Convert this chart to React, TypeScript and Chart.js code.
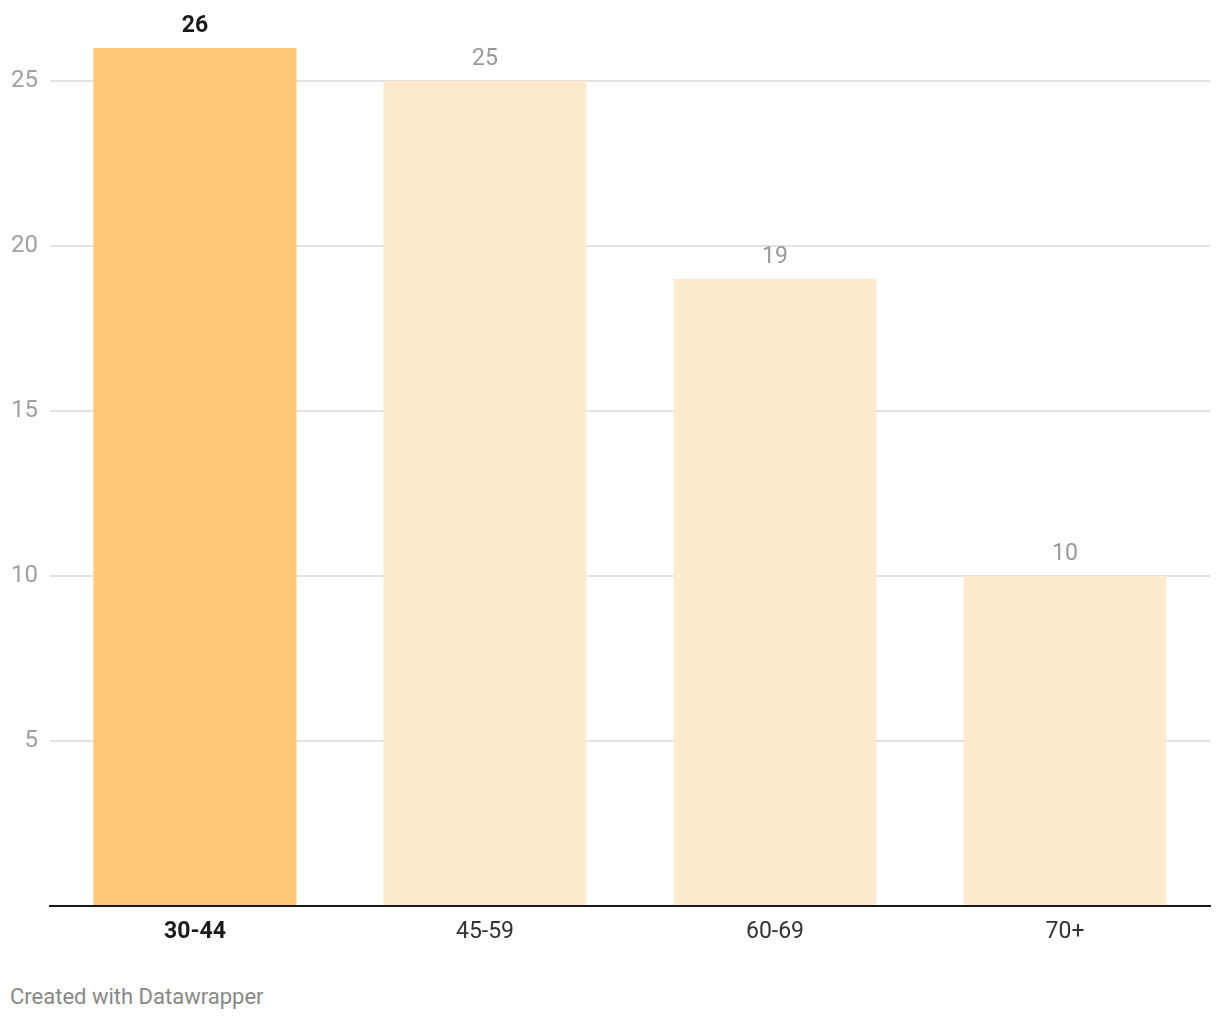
import React, { useEffect, useRef } from "react";
import { Chart, registerables } from "chart.js";

Chart.register(...registerables);

const categories = ["30-44", "45-59", "60-69", "70+"];
const values = [26, 25, 19, 10];
const highlight = [true, false, false, false];
const yTicks = [5, 10, 15, 20, 25];

const FONT = "Roboto, 'Noto Sans', sans-serif";

const valueLabels = {
  id: "valueLabels",
  afterDatasetsDraw(chart: any) {
    const ctx = chart.ctx;
    const meta = chart.getDatasetMeta(0);
    ctx.save();
    ctx.textAlign = "center";
    ctx.textBaseline = "alphabetic";
    meta.data.forEach((bar: any, i: number) => {
      ctx.font = `${highlight[i] ? "bold " : ""}23px ${FONT}`;
      ctx.fillStyle = highlight[i] ? "#1a1a1a" : "#999999";
      ctx.fillText(String(values[i]), bar.x, bar.y - 16);
    });
    ctx.restore();
  },
};

export default function App() {
  const ref = useRef<HTMLCanvasElement>(null);
  useEffect(() => {
    document.body.style.margin = "0";
    const chart = new Chart(ref.current!, {
      type: "bar",
      data: {
        labels: categories,
        datasets: [
          {
            data: values,
            backgroundColor: highlight.map((h) => (h ? "#fdc979" : "#feebcf")),
            borderWidth: 0,
            barPercentage: 0.7,
            categoryPercentage: 1,
          },
        ],
      },
      options: {
        animation: false,
        responsive: false,
        maintainAspectRatio: false,
        layout: { padding: { top: 48, right: 10, left: 0, bottom: 0 } },
        plugins: { legend: { display: false }, tooltip: { enabled: false } },
        scales: {
          x: {
            grid: { display: false, drawTicks: false },
            border: { display: true, color: "#1a1a1a", width: 2 },
            ticks: {
              padding: 12,
              color: (c: any) => (highlight[c.index] ? "#1a1a1a" : "#333333"),
              font: (c: any) => ({
                family: FONT,
                size: 23,
                weight: highlight[c.index] ? "bold" : "normal",
              }),
            },
            afterFit: (s: any) => {
              s.height = 60;
            },
          },
          y: {
            min: 0,
            max: 26,
            grid: {
              drawTicks: false,
              color: (c: any) =>
                c.tick && yTicks.includes(c.tick.value) ? "#e3e3e3" : "rgba(0,0,0,0)",
              lineWidth: 2,
            },
            border: { display: false },
            ticks: {
              stepSize: 5,
              padding: 12,
              color: "#a0a0a0",
              font: { family: FONT, size: 24 },
              callback: (v: any) => (yTicks.includes(v) ? String(v) : ""),
            },
            afterFit: (s: any) => {
              s.width = 50;
            },
          },
        },
      },
      plugins: [valueLabels],
    });
    return () => chart.destroy();
  }, []);

  return (
    <div style={{ position: "relative", width: 1220, height: 1020, background: "#fff" }}>
      <canvas ref={ref} width={1220} height={966} style={{ display: "block" }} />
      <div
        style={{
          position: "absolute",
          left: 10,
          top: 984,
          fontFamily: FONT,
          fontSize: 22,
          lineHeight: "26px",
          color: "#888888",
        }}
      >
        Created with Datawrapper
      </div>
    </div>
  );
}
